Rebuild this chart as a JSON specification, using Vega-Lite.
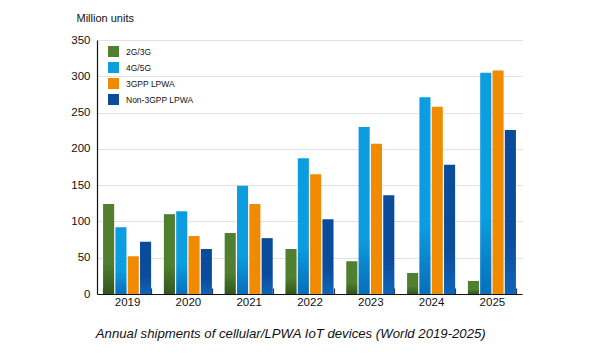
{
  "$schema": "https://vega.github.io/schema/vega-lite/v6.json",
  "autosize": {"type": "none"},
  "width": 425,
  "height": 254,
  "padding": {"left": 97, "top": 40, "right": 78, "bottom": 66},
  "background": "white",
  "config": {
    "font": "Liberation Sans",
    "view": {"stroke": null}
  },
  "title": {
    "text": "Annual shipments of cellular/LPWA IoT devices (World 2019-2025)",
    "orient": "bottom",
    "anchor": "start",
    "fontStyle": "italic",
    "fontWeight": "normal",
    "fontSize": 13.2,
    "color": "#111111",
    "offset": 20,
    "dx": 25
  },
  "data": {
    "values": [
      {"year": "2019", "type": "2G/3G", "value": 124},
      {"year": "2019", "type": "4G/5G", "value": 92},
      {"year": "2019", "type": "3GPP LPWA", "value": 52},
      {"year": "2019", "type": "Non-3GPP LPWA", "value": 72},
      {"year": "2020", "type": "2G/3G", "value": 110},
      {"year": "2020", "type": "4G/5G", "value": 114},
      {"year": "2020", "type": "3GPP LPWA", "value": 80},
      {"year": "2020", "type": "Non-3GPP LPWA", "value": 62},
      {"year": "2021", "type": "2G/3G", "value": 84},
      {"year": "2021", "type": "4G/5G", "value": 149},
      {"year": "2021", "type": "3GPP LPWA", "value": 124},
      {"year": "2021", "type": "Non-3GPP LPWA", "value": 77},
      {"year": "2022", "type": "2G/3G", "value": 62},
      {"year": "2022", "type": "4G/5G", "value": 187},
      {"year": "2022", "type": "3GPP LPWA", "value": 165},
      {"year": "2022", "type": "Non-3GPP LPWA", "value": 103},
      {"year": "2023", "type": "2G/3G", "value": 45},
      {"year": "2023", "type": "4G/5G", "value": 230},
      {"year": "2023", "type": "3GPP LPWA", "value": 207},
      {"year": "2023", "type": "Non-3GPP LPWA", "value": 136},
      {"year": "2024", "type": "2G/3G", "value": 29},
      {"year": "2024", "type": "4G/5G", "value": 271},
      {"year": "2024", "type": "3GPP LPWA", "value": 258},
      {"year": "2024", "type": "Non-3GPP LPWA", "value": 178},
      {"year": "2025", "type": "2G/3G", "value": 18},
      {"year": "2025", "type": "4G/5G", "value": 305},
      {"year": "2025", "type": "3GPP LPWA", "value": 308},
      {"year": "2025", "type": "Non-3GPP LPWA", "value": 226}
    ]
  },
  "encoding": {
    "x": {
      "field": "year",
      "type": "nominal",
      "scale": {"paddingInner": 0.21, "paddingOuter": 0.1},
      "axis": {
        "title": null,
        "labelAngle": 0,
        "labelFontSize": 11.5,
        "labelColor": "#111111",
        "labelPadding": 8,
        "domainColor": "#111111",
        "domainWidth": 1.2,
        "tickBand": "extent",
        "tickSize": -6,
        "tickColor": "#333333",
        "tickWidth": 1.2,
        "grid": false
      }
    },
    "xOffset": {
      "field": "type",
      "type": "nominal",
      "scale": {"domain": ["2G/3G", "4G/5G", "3GPP LPWA", "Non-3GPP LPWA"], "paddingInner": 0.1}
    },
    "y": {
      "field": "value",
      "type": "quantitative",
      "scale": {"domain": [0, 350], "nice": false},
      "axis": {
        "values": [0, 50, 100, 150, 200, 250, 300, 350],
        "title": "Million units",
        "titleAngle": 0,
        "titleX": -21,
        "titleY": -22,
        "titleAlign": "left",
        "titleBaseline": "middle",
        "titleFontSize": 11,
        "titleFontWeight": "normal",
        "titleColor": "#111111",
        "labelFontSize": 11.5,
        "labelColor": "#111111",
        "labelPadding": 7,
        "tickSize": 0,
        "domainColor": "#111111",
        "domainWidth": 1.2,
        "gridColor": "#e2e2e2",
        "gridWidth": 1.2
      }
    }
  },
  "layer": [
    {
      "mark": {"type": "bar"},
      "encoding": {
        "color": {
          "field": "type",
          "type": "nominal",
          "scale": {
            "domain": ["2G/3G", "4G/5G", "3GPP LPWA", "Non-3GPP LPWA"],
            "range": ["#4f7f2f", "#0c9de0", "#f08a00", "#0b4b9c"]
          },
          "legend": {
            "title": null,
            "orient": "none",
            "legendX": 11,
            "legendY": 6,
            "symbolType": "square",
            "symbolSize": 121,
            "symbolStrokeWidth": 0,
            "symbolOpacity": 1,
            "labelFontSize": 8.5,
            "labelColor": "#111111",
            "labelOffset": 7,
            "rowPadding": 5,
            "padding": 0
          }
        }
      }
    },
    {
      "transform": [{"filter": {"field": "type", "equal": "2G/3G"}}],
      "mark": {
        "type": "bar",
        "fill": {
          "gradient": "linear",
          "x1": 0, "y1": 0, "x2": 0, "y2": 1,
          "stops": [
            {"offset": 0, "color": "rgba(10,30,0,0)"},
            {"offset": 0.65, "color": "rgba(10,30,0,0)"},
            {"offset": 1, "color": "rgba(10,30,0,0.42)"}
          ]
        }
      }
    },
    {
      "transform": [{"filter": {"field": "type", "equal": "4G/5G"}}],
      "mark": {
        "type": "bar",
        "fill": {
          "gradient": "linear",
          "x1": 0, "y1": 0, "x2": 0, "y2": 1,
          "stops": [
            {"offset": 0, "color": "rgba(0,40,130,0)"},
            {"offset": 0.65, "color": "rgba(0,40,130,0)"},
            {"offset": 1, "color": "rgba(0,40,130,0.4)"}
          ]
        }
      }
    },
    {
      "transform": [{"filter": {"field": "type", "equal": "Non-3GPP LPWA"}}],
      "mark": {
        "type": "bar",
        "fill": {
          "gradient": "linear",
          "x1": 0, "y1": 0, "x2": 0, "y2": 1,
          "stops": [
            {"offset": 0, "color": "rgba(20,140,230,0)"},
            {"offset": 0.65, "color": "rgba(20,140,230,0)"},
            {"offset": 1, "color": "rgba(20,140,230,0.4)"}
          ]
        }
      }
    }
  ]
}
